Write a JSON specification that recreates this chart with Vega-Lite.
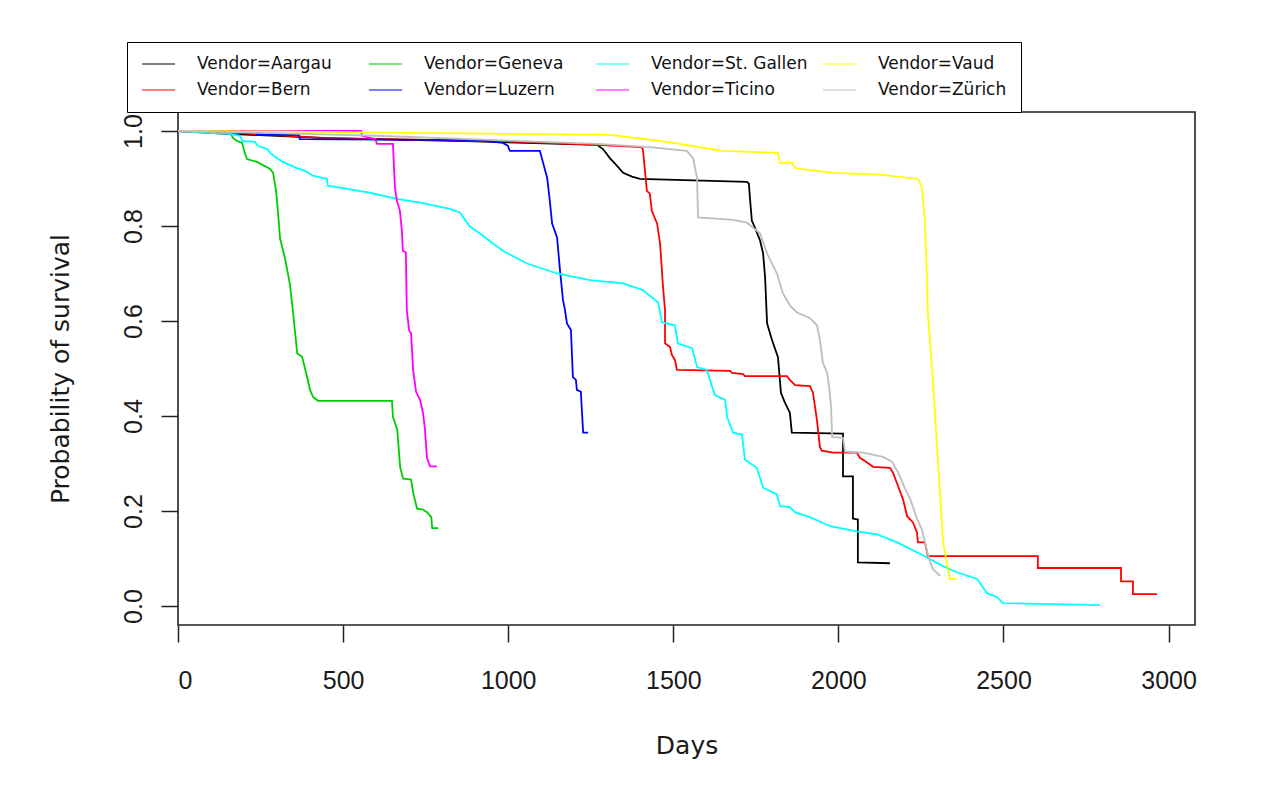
{
  "$schema": "https://vega.github.io/schema/vega-lite/v6.json",
  "width": 1017,
  "height": 513,
  "autosize": "none",
  "padding": {"left": 178, "top": 112, "right": 88, "bottom": 174},
  "background": "white",
  "config": {
    "font": "Liberation Sans",
    "view": {"stroke": "#222222", "strokeWidth": 1.6}
  },
  "data": {"values": [
    {"Vendor":"Aargau","i":0,"day":0,"surv":1},
    {"Vendor":"Aargau","i":1,"day":120,"surv":0.995},
    {"Vendor":"Aargau","i":2,"day":450,"surv":0.985},
    {"Vendor":"Aargau","i":3,"day":900,"surv":0.978},
    {"Vendor":"Aargau","i":4,"day":1269,"surv":0.971},
    {"Vendor":"Aargau","i":5,"day":1287,"surv":0.962},
    {"Vendor":"Aargau","i":6,"day":1308,"surv":0.943},
    {"Vendor":"Aargau","i":7,"day":1329,"surv":0.927},
    {"Vendor":"Aargau","i":8,"day":1348,"surv":0.912},
    {"Vendor":"Aargau","i":9,"day":1375,"surv":0.904},
    {"Vendor":"Aargau","i":10,"day":1399,"surv":0.899},
    {"Vendor":"Aargau","i":11,"day":1723,"surv":0.893},
    {"Vendor":"Aargau","i":12,"day":1729,"surv":0.889},
    {"Vendor":"Aargau","i":13,"day":1732,"surv":0.86},
    {"Vendor":"Aargau","i":14,"day":1738,"surv":0.811},
    {"Vendor":"Aargau","i":15,"day":1747,"surv":0.797},
    {"Vendor":"Aargau","i":16,"day":1763,"surv":0.769},
    {"Vendor":"Aargau","i":17,"day":1772,"surv":0.742},
    {"Vendor":"Aargau","i":18,"day":1778,"surv":0.692},
    {"Vendor":"Aargau","i":19,"day":1784,"surv":0.595},
    {"Vendor":"Aargau","i":20,"day":1799,"surv":0.56},
    {"Vendor":"Aargau","i":21,"day":1817,"surv":0.524},
    {"Vendor":"Aargau","i":22,"day":1826,"surv":0.449},
    {"Vendor":"Aargau","i":23,"day":1838,"surv":0.428},
    {"Vendor":"Aargau","i":24,"day":1853,"surv":0.407},
    {"Vendor":"Aargau","i":25,"day":1859,"surv":0.365},
    {"Vendor":"Aargau","i":26,"day":2014,"surv":0.363},
    {"Vendor":"Aargau","i":27,"day":2014,"surv":0.273},
    {"Vendor":"Aargau","i":28,"day":2044,"surv":0.273},
    {"Vendor":"Aargau","i":29,"day":2044,"surv":0.184},
    {"Vendor":"Aargau","i":30,"day":2059,"surv":0.182},
    {"Vendor":"Aargau","i":31,"day":2059,"surv":0.092},
    {"Vendor":"Aargau","i":32,"day":2156,"surv":0.09},

    {"Vendor":"Bern","i":0,"day":0,"surv":1},
    {"Vendor":"Bern","i":1,"day":200,"surv":0.995},
    {"Vendor":"Bern","i":2,"day":451,"surv":0.985},
    {"Vendor":"Bern","i":3,"day":1000,"surv":0.978},
    {"Vendor":"Bern","i":4,"day":1269,"surv":0.971},
    {"Vendor":"Bern","i":5,"day":1402,"surv":0.966},
    {"Vendor":"Bern","i":6,"day":1408,"surv":0.962},
    {"Vendor":"Bern","i":7,"day":1420,"surv":0.874},
    {"Vendor":"Bern","i":8,"day":1429,"surv":0.868},
    {"Vendor":"Bern","i":9,"day":1435,"surv":0.832},
    {"Vendor":"Bern","i":10,"day":1451,"surv":0.805},
    {"Vendor":"Bern","i":11,"day":1460,"surv":0.763},
    {"Vendor":"Bern","i":12,"day":1469,"surv":0.671},
    {"Vendor":"Bern","i":13,"day":1475,"surv":0.623},
    {"Vendor":"Bern","i":14,"day":1475,"surv":0.553},
    {"Vendor":"Bern","i":15,"day":1490,"surv":0.545},
    {"Vendor":"Bern","i":16,"day":1496,"surv":0.528},
    {"Vendor":"Bern","i":17,"day":1505,"surv":0.518},
    {"Vendor":"Bern","i":18,"day":1511,"surv":0.497},
    {"Vendor":"Bern","i":19,"day":1672,"surv":0.495},
    {"Vendor":"Bern","i":20,"day":1678,"surv":0.491},
    {"Vendor":"Bern","i":21,"day":1711,"surv":0.488},
    {"Vendor":"Bern","i":22,"day":1717,"surv":0.484},
    {"Vendor":"Bern","i":23,"day":1844,"surv":0.484},
    {"Vendor":"Bern","i":24,"day":1853,"surv":0.476},
    {"Vendor":"Bern","i":25,"day":1869,"surv":0.465},
    {"Vendor":"Bern","i":26,"day":1914,"surv":0.463},
    {"Vendor":"Bern","i":27,"day":1923,"surv":0.449},
    {"Vendor":"Bern","i":28,"day":1935,"surv":0.392},
    {"Vendor":"Bern","i":29,"day":1944,"surv":0.335},
    {"Vendor":"Bern","i":30,"day":1950,"surv":0.327},
    {"Vendor":"Bern","i":31,"day":1984,"surv":0.323},
    {"Vendor":"Bern","i":32,"day":2056,"surv":0.323},
    {"Vendor":"Bern","i":33,"day":2065,"surv":0.312},
    {"Vendor":"Bern","i":34,"day":2087,"surv":0.302},
    {"Vendor":"Bern","i":35,"day":2105,"surv":0.293},
    {"Vendor":"Bern","i":36,"day":2156,"surv":0.291},
    {"Vendor":"Bern","i":37,"day":2165,"surv":0.281},
    {"Vendor":"Bern","i":38,"day":2181,"surv":0.252},
    {"Vendor":"Bern","i":39,"day":2196,"surv":0.224},
    {"Vendor":"Bern","i":40,"day":2208,"surv":0.189},
    {"Vendor":"Bern","i":41,"day":2226,"surv":0.176},
    {"Vendor":"Bern","i":42,"day":2238,"surv":0.155},
    {"Vendor":"Bern","i":43,"day":2241,"surv":0.134},
    {"Vendor":"Bern","i":44,"day":2262,"surv":0.134},
    {"Vendor":"Bern","i":45,"day":2271,"surv":0.105},
    {"Vendor":"Bern","i":46,"day":2604,"surv":0.105},
    {"Vendor":"Bern","i":47,"day":2604,"surv":0.08},
    {"Vendor":"Bern","i":48,"day":2856,"surv":0.08},
    {"Vendor":"Bern","i":49,"day":2856,"surv":0.052},
    {"Vendor":"Bern","i":50,"day":2892,"surv":0.052},
    {"Vendor":"Bern","i":51,"day":2892,"surv":0.025},
    {"Vendor":"Bern","i":52,"day":2965,"surv":0.025},

    {"Vendor":"Geneva","i":0,"day":0,"surv":1},
    {"Vendor":"Geneva","i":1,"day":155,"surv":1},
    {"Vendor":"Geneva","i":2,"day":167,"surv":0.985},
    {"Vendor":"Geneva","i":3,"day":179,"surv":0.979},
    {"Vendor":"Geneva","i":4,"day":194,"surv":0.975},
    {"Vendor":"Geneva","i":5,"day":203,"surv":0.952},
    {"Vendor":"Geneva","i":6,"day":209,"surv":0.941},
    {"Vendor":"Geneva","i":7,"day":239,"surv":0.935},
    {"Vendor":"Geneva","i":8,"day":279,"surv":0.92},
    {"Vendor":"Geneva","i":9,"day":288,"surv":0.912},
    {"Vendor":"Geneva","i":10,"day":297,"surv":0.874},
    {"Vendor":"Geneva","i":11,"day":303,"surv":0.828},
    {"Vendor":"Geneva","i":12,"day":309,"surv":0.774},
    {"Vendor":"Geneva","i":13,"day":324,"surv":0.732},
    {"Vendor":"Geneva","i":14,"day":339,"surv":0.677},
    {"Vendor":"Geneva","i":15,"day":348,"surv":0.621},
    {"Vendor":"Geneva","i":16,"day":361,"surv":0.532},
    {"Vendor":"Geneva","i":17,"day":376,"surv":0.524},
    {"Vendor":"Geneva","i":18,"day":391,"surv":0.482},
    {"Vendor":"Geneva","i":19,"day":400,"surv":0.455},
    {"Vendor":"Geneva","i":20,"day":409,"surv":0.44},
    {"Vendor":"Geneva","i":21,"day":424,"surv":0.432},
    {"Vendor":"Geneva","i":22,"day":648,"surv":0.432},
    {"Vendor":"Geneva","i":23,"day":651,"surv":0.398},
    {"Vendor":"Geneva","i":24,"day":664,"surv":0.371},
    {"Vendor":"Geneva","i":25,"day":673,"surv":0.291},
    {"Vendor":"Geneva","i":26,"day":682,"surv":0.268},
    {"Vendor":"Geneva","i":27,"day":706,"surv":0.266},
    {"Vendor":"Geneva","i":28,"day":712,"surv":0.239},
    {"Vendor":"Geneva","i":29,"day":724,"surv":0.205},
    {"Vendor":"Geneva","i":30,"day":742,"surv":0.203},
    {"Vendor":"Geneva","i":31,"day":755,"surv":0.197},
    {"Vendor":"Geneva","i":32,"day":767,"surv":0.187},
    {"Vendor":"Geneva","i":33,"day":770,"surv":0.164},
    {"Vendor":"Geneva","i":34,"day":788,"surv":0.164},

    {"Vendor":"Luzern","i":0,"day":0,"surv":1},
    {"Vendor":"Luzern","i":1,"day":238,"surv":1},
    {"Vendor":"Luzern","i":2,"day":242,"surv":0.992},
    {"Vendor":"Luzern","i":3,"day":366,"surv":0.992},
    {"Vendor":"Luzern","i":4,"day":369,"surv":0.983},
    {"Vendor":"Luzern","i":5,"day":908,"surv":0.981},
    {"Vendor":"Luzern","i":6,"day":984,"surv":0.975},
    {"Vendor":"Luzern","i":7,"day":999,"surv":0.969},
    {"Vendor":"Luzern","i":8,"day":1005,"surv":0.958},
    {"Vendor":"Luzern","i":9,"day":1096,"surv":0.958},
    {"Vendor":"Luzern","i":10,"day":1105,"surv":0.935},
    {"Vendor":"Luzern","i":11,"day":1118,"surv":0.901},
    {"Vendor":"Luzern","i":12,"day":1125,"surv":0.86},
    {"Vendor":"Luzern","i":13,"day":1133,"surv":0.805},
    {"Vendor":"Luzern","i":14,"day":1148,"surv":0.776},
    {"Vendor":"Luzern","i":15,"day":1157,"surv":0.706},
    {"Vendor":"Luzern","i":16,"day":1166,"surv":0.644},
    {"Vendor":"Luzern","i":17,"day":1172,"surv":0.623},
    {"Vendor":"Luzern","i":18,"day":1178,"surv":0.595},
    {"Vendor":"Luzern","i":19,"day":1190,"surv":0.581},
    {"Vendor":"Luzern","i":20,"day":1196,"surv":0.482},
    {"Vendor":"Luzern","i":21,"day":1205,"surv":0.476},
    {"Vendor":"Luzern","i":22,"day":1208,"surv":0.455},
    {"Vendor":"Luzern","i":23,"day":1220,"surv":0.451},
    {"Vendor":"Luzern","i":24,"day":1227,"surv":0.365},
    {"Vendor":"Luzern","i":25,"day":1242,"surv":0.365},

    {"Vendor":"St. Gallen","i":0,"day":0,"surv":1},
    {"Vendor":"St. Gallen","i":1,"day":60,"surv":0.997},
    {"Vendor":"St. Gallen","i":2,"day":157,"surv":0.994},
    {"Vendor":"St. Gallen","i":3,"day":188,"surv":0.99},
    {"Vendor":"St. Gallen","i":4,"day":194,"surv":0.979},
    {"Vendor":"St. Gallen","i":5,"day":233,"surv":0.977},
    {"Vendor":"St. Gallen","i":6,"day":242,"surv":0.969},
    {"Vendor":"St. Gallen","i":7,"day":270,"surv":0.962},
    {"Vendor":"St. Gallen","i":8,"day":279,"surv":0.954},
    {"Vendor":"St. Gallen","i":9,"day":303,"surv":0.941},
    {"Vendor":"St. Gallen","i":10,"day":324,"surv":0.933},
    {"Vendor":"St. Gallen","i":11,"day":360,"surv":0.922},
    {"Vendor":"St. Gallen","i":12,"day":385,"surv":0.916},
    {"Vendor":"St. Gallen","i":13,"day":409,"surv":0.906},
    {"Vendor":"St. Gallen","i":14,"day":451,"surv":0.899},
    {"Vendor":"St. Gallen","i":15,"day":454,"surv":0.885},
    {"Vendor":"St. Gallen","i":16,"day":512,"surv":0.878},
    {"Vendor":"St. Gallen","i":17,"day":581,"surv":0.87},
    {"Vendor":"St. Gallen","i":18,"day":663,"surv":0.857},
    {"Vendor":"St. Gallen","i":19,"day":733,"surv":0.849},
    {"Vendor":"St. Gallen","i":20,"day":824,"surv":0.836},
    {"Vendor":"St. Gallen","i":21,"day":854,"surv":0.828},
    {"Vendor":"St. Gallen","i":22,"day":884,"surv":0.799},
    {"Vendor":"St. Gallen","i":23,"day":915,"surv":0.784},
    {"Vendor":"St. Gallen","i":24,"day":954,"surv":0.763},
    {"Vendor":"St. Gallen","i":25,"day":984,"surv":0.748},
    {"Vendor":"St. Gallen","i":26,"day":1057,"surv":0.721},
    {"Vendor":"St. Gallen","i":27,"day":1148,"surv":0.7},
    {"Vendor":"St. Gallen","i":28,"day":1248,"surv":0.686},
    {"Vendor":"St. Gallen","i":29,"day":1348,"surv":0.679},
    {"Vendor":"St. Gallen","i":30,"day":1408,"surv":0.665},
    {"Vendor":"St. Gallen","i":31,"day":1454,"surv":0.639},
    {"Vendor":"St. Gallen","i":32,"day":1466,"surv":0.597},
    {"Vendor":"St. Gallen","i":33,"day":1505,"surv":0.591},
    {"Vendor":"St. Gallen","i":34,"day":1514,"surv":0.553},
    {"Vendor":"St. Gallen","i":35,"day":1557,"surv":0.543},
    {"Vendor":"St. Gallen","i":36,"day":1572,"surv":0.503},
    {"Vendor":"St. Gallen","i":37,"day":1602,"surv":0.497},
    {"Vendor":"St. Gallen","i":38,"day":1611,"surv":0.476},
    {"Vendor":"St. Gallen","i":39,"day":1626,"surv":0.444},
    {"Vendor":"St. Gallen","i":40,"day":1657,"surv":0.434},
    {"Vendor":"St. Gallen","i":41,"day":1663,"surv":0.398},
    {"Vendor":"St. Gallen","i":42,"day":1681,"surv":0.365},
    {"Vendor":"St. Gallen","i":43,"day":1708,"surv":0.361},
    {"Vendor":"St. Gallen","i":44,"day":1717,"surv":0.308},
    {"Vendor":"St. Gallen","i":45,"day":1753,"surv":0.291},
    {"Vendor":"St. Gallen","i":46,"day":1772,"surv":0.249},
    {"Vendor":"St. Gallen","i":47,"day":1814,"surv":0.235},
    {"Vendor":"St. Gallen","i":48,"day":1823,"surv":0.21},
    {"Vendor":"St. Gallen","i":49,"day":1853,"surv":0.208},
    {"Vendor":"St. Gallen","i":50,"day":1869,"surv":0.197},
    {"Vendor":"St. Gallen","i":51,"day":1914,"surv":0.187},
    {"Vendor":"St. Gallen","i":52,"day":1975,"surv":0.168},
    {"Vendor":"St. Gallen","i":53,"day":2056,"surv":0.157},
    {"Vendor":"St. Gallen","i":54,"day":2117,"surv":0.151},
    {"Vendor":"St. Gallen","i":55,"day":2178,"surv":0.134},
    {"Vendor":"St. Gallen","i":56,"day":2256,"surv":0.107},
    {"Vendor":"St. Gallen","i":57,"day":2317,"surv":0.084},
    {"Vendor":"St. Gallen","i":58,"day":2359,"surv":0.071},
    {"Vendor":"St. Gallen","i":59,"day":2420,"surv":0.057},
    {"Vendor":"St. Gallen","i":60,"day":2435,"surv":0.042},
    {"Vendor":"St. Gallen","i":61,"day":2450,"surv":0.027},
    {"Vendor":"St. Gallen","i":62,"day":2480,"surv":0.019},
    {"Vendor":"St. Gallen","i":63,"day":2498,"surv":0.006},
    {"Vendor":"St. Gallen","i":64,"day":2792,"surv":0.002},

    {"Vendor":"Ticino","i":0,"day":0,"surv":1},
    {"Vendor":"Ticino","i":1,"day":555,"surv":1},
    {"Vendor":"Ticino","i":2,"day":557,"surv":0.99},
    {"Vendor":"Ticino","i":3,"day":597,"surv":0.983},
    {"Vendor":"Ticino","i":4,"day":603,"surv":0.973},
    {"Vendor":"Ticino","i":5,"day":651,"surv":0.973},
    {"Vendor":"Ticino","i":6,"day":657,"surv":0.88},
    {"Vendor":"Ticino","i":7,"day":663,"surv":0.853},
    {"Vendor":"Ticino","i":8,"day":672,"surv":0.832},
    {"Vendor":"Ticino","i":9,"day":678,"surv":0.79},
    {"Vendor":"Ticino","i":10,"day":681,"surv":0.748},
    {"Vendor":"Ticino","i":11,"day":690,"surv":0.744},
    {"Vendor":"Ticino","i":12,"day":693,"surv":0.623},
    {"Vendor":"Ticino","i":13,"day":700,"surv":0.58},
    {"Vendor":"Ticino","i":14,"day":706,"surv":0.574},
    {"Vendor":"Ticino","i":15,"day":712,"surv":0.497},
    {"Vendor":"Ticino","i":16,"day":721,"surv":0.451},
    {"Vendor":"Ticino","i":17,"day":733,"surv":0.434},
    {"Vendor":"Ticino","i":18,"day":742,"surv":0.407},
    {"Vendor":"Ticino","i":19,"day":748,"surv":0.371},
    {"Vendor":"Ticino","i":20,"day":754,"surv":0.312},
    {"Vendor":"Ticino","i":21,"day":763,"surv":0.294},
    {"Vendor":"Ticino","i":22,"day":784,"surv":0.294},

    {"Vendor":"Vaud","i":0,"day":0,"surv":1},
    {"Vendor":"Vaud","i":1,"day":300,"surv":0.999},
    {"Vendor":"Vaud","i":2,"day":551,"surv":0.997},
    {"Vendor":"Vaud","i":3,"day":1308,"surv":0.992},
    {"Vendor":"Vaud","i":4,"day":1329,"surv":0.99},
    {"Vendor":"Vaud","i":5,"day":1481,"surv":0.977},
    {"Vendor":"Vaud","i":6,"day":1632,"surv":0.96},
    {"Vendor":"Vaud","i":7,"day":1650,"surv":0.958},
    {"Vendor":"Vaud","i":8,"day":1817,"surv":0.954},
    {"Vendor":"Vaud","i":9,"day":1823,"surv":0.933},
    {"Vendor":"Vaud","i":10,"day":1859,"surv":0.933},
    {"Vendor":"Vaud","i":11,"day":1869,"surv":0.922},
    {"Vendor":"Vaud","i":12,"day":1984,"surv":0.912},
    {"Vendor":"Vaud","i":13,"day":2126,"surv":0.908},
    {"Vendor":"Vaud","i":14,"day":2241,"surv":0.899},
    {"Vendor":"Vaud","i":15,"day":2253,"surv":0.881},
    {"Vendor":"Vaud","i":16,"day":2262,"surv":0.81},
    {"Vendor":"Vaud","i":17,"day":2268,"surv":0.692},
    {"Vendor":"Vaud","i":18,"day":2271,"surv":0.616},
    {"Vendor":"Vaud","i":19,"day":2286,"surv":0.476},
    {"Vendor":"Vaud","i":20,"day":2302,"surv":0.3},
    {"Vendor":"Vaud","i":21,"day":2317,"surv":0.134},
    {"Vendor":"Vaud","i":22,"day":2332,"surv":0.078},
    {"Vendor":"Vaud","i":23,"day":2338,"surv":0.057},
    {"Vendor":"Vaud","i":24,"day":2359,"surv":0.057},

    {"Vendor":"Zürich","i":0,"day":0,"surv":1},
    {"Vendor":"Zürich","i":1,"day":200,"surv":0.997},
    {"Vendor":"Zürich","i":2,"day":600,"surv":0.99},
    {"Vendor":"Zürich","i":3,"day":1269,"surv":0.973},
    {"Vendor":"Zürich","i":4,"day":1429,"surv":0.966},
    {"Vendor":"Zürich","i":5,"day":1541,"surv":0.958},
    {"Vendor":"Zürich","i":6,"day":1560,"surv":0.943},
    {"Vendor":"Zürich","i":7,"day":1572,"surv":0.901},
    {"Vendor":"Zürich","i":8,"day":1575,"surv":0.818},
    {"Vendor":"Zürich","i":9,"day":1681,"surv":0.813},
    {"Vendor":"Zürich","i":10,"day":1723,"surv":0.807},
    {"Vendor":"Zürich","i":11,"day":1741,"surv":0.797},
    {"Vendor":"Zürich","i":12,"day":1763,"surv":0.784},
    {"Vendor":"Zürich","i":13,"day":1784,"surv":0.742},
    {"Vendor":"Zürich","i":14,"day":1814,"surv":0.7},
    {"Vendor":"Zürich","i":15,"day":1832,"surv":0.658},
    {"Vendor":"Zürich","i":16,"day":1853,"surv":0.633},
    {"Vendor":"Zürich","i":17,"day":1875,"surv":0.618},
    {"Vendor":"Zürich","i":18,"day":1914,"surv":0.606},
    {"Vendor":"Zürich","i":19,"day":1935,"surv":0.591},
    {"Vendor":"Zürich","i":20,"day":1944,"surv":0.56},
    {"Vendor":"Zürich","i":21,"day":1953,"surv":0.512},
    {"Vendor":"Zürich","i":22,"day":1966,"surv":0.491},
    {"Vendor":"Zürich","i":23,"day":1972,"surv":0.461},
    {"Vendor":"Zürich","i":24,"day":1978,"surv":0.419},
    {"Vendor":"Zürich","i":25,"day":1981,"surv":0.356},
    {"Vendor":"Zürich","i":26,"day":2014,"surv":0.354},
    {"Vendor":"Zürich","i":27,"day":2020,"surv":0.325},
    {"Vendor":"Zürich","i":28,"day":2075,"surv":0.323},
    {"Vendor":"Zürich","i":29,"day":2135,"surv":0.314},
    {"Vendor":"Zürich","i":30,"day":2162,"surv":0.304},
    {"Vendor":"Zürich","i":31,"day":2181,"surv":0.281},
    {"Vendor":"Zürich","i":32,"day":2202,"surv":0.247},
    {"Vendor":"Zürich","i":33,"day":2217,"surv":0.226},
    {"Vendor":"Zürich","i":34,"day":2238,"surv":0.184},
    {"Vendor":"Zürich","i":35,"day":2253,"surv":0.161},
    {"Vendor":"Zürich","i":36,"day":2268,"surv":0.117},
    {"Vendor":"Zürich","i":37,"day":2277,"surv":0.094},
    {"Vendor":"Zürich","i":38,"day":2286,"surv":0.078},
    {"Vendor":"Zürich","i":39,"day":2302,"surv":0.067},
    {"Vendor":"Zürich","i":40,"day":2308,"surv":0.063}
  ]},
  "mark": {"type": "line", "strokeWidth": 1.8, "interpolate": "linear"},
  "encoding": {
    "x": {
      "field": "day", "type": "quantitative",
      "scale": {"domain": [0, 3080], "nice": false, "zero": false},
      "axis": {
        "values": [0, 500, 1000, 1500, 2000, 2500, 3000],
        "format": "d", "grid": false, "domain": false,
        "tickSize": 17, "tickWidth": 1.5, "tickColor": "#222222",
        "labelFont": "Liberation Sans", "labelFontSize": 25, "labelColor": "#1a1a1a", "labelPadding": 26,
        "title": "Days", "titleFont": "DejaVu Sans", "titleFontSize": 25, "titleFontWeight": "normal", "titleColor": "#1a1a1a", "titlePadding": 40
      }
    },
    "y": {
      "field": "surv", "type": "quantitative",
      "scale": {"domain": [-0.04, 1.04], "nice": false, "zero": false},
      "axis": {
        "values": [0, 0.2, 0.4, 0.6, 0.8, 1],
        "format": ".1f", "grid": false, "domain": false,
        "tickSize": 17, "tickWidth": 1.5, "tickColor": "#222222",
        "labelFont": "Liberation Sans", "labelFontSize": 25, "labelColor": "#1a1a1a",
        "labelAngle": -90, "labelAlign": "center", "labelBaseline": "alphabetic", "labelPadding": 20,
        "title": "Probability of survival", "titleFont": "DejaVu Sans", "titleFontSize": 25, "titleFontWeight": "normal", "titleColor": "#1a1a1a", "titlePadding": 48
      }
    },
    "color": {
      "field": "Vendor", "type": "nominal",
      "scale": {
        "domain": ["Aargau", "Bern", "Geneva", "Luzern", "St. Gallen", "Ticino", "Vaud", "Zürich"],
        "range": ["#000000", "#FF0000", "#00CD00", "#0000FF", "#00FFFF", "#FF00FF", "#FFFF00", "#BEBEBE"]
      },
      "legend": {
        "orient": "none", "legendX": -51, "legendY": -70,
        "direction": "vertical", "columns": 4, "title": null,
        "symbolType": "stroke", "symbolSize": 1089, "symbolStrokeWidth": 1.2,
        "labelFont": "DejaVu Sans", "labelFontSize": 17, "labelColor": "#111111", "labelLimit": 300,
        "labelOffset": 21, "columnPadding": 14, "rowPadding": 9, "gridAlign": "all",
        "padding": 14, "strokeColor": "#000000", "fillColor": "#FFFFFF",
        "clipHeight": 16,
        "labelExpr": "'Vendor=' + datum.label"
      }
    },
    "order": {"field": "i"}
  }
}
